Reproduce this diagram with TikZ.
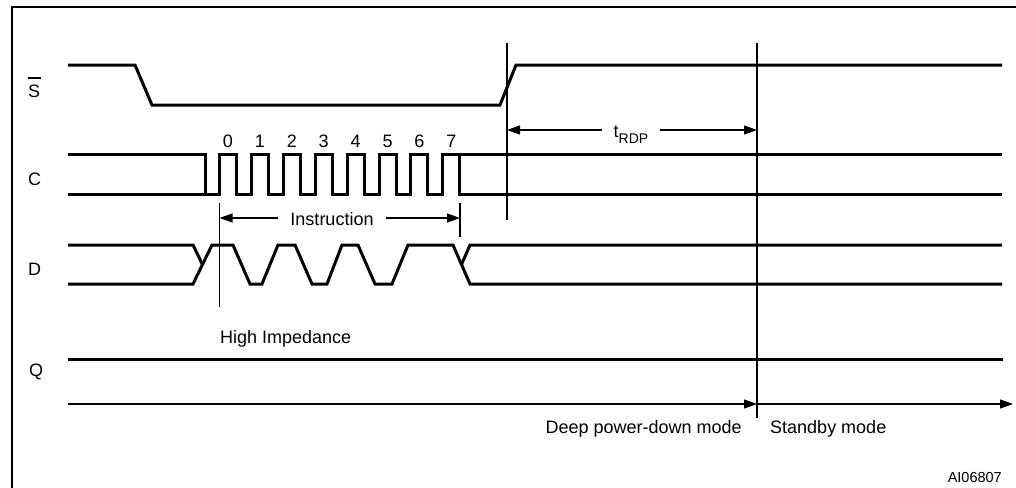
\documentclass[tikz,border=0pt]{standalone}
\usepackage{fontspec}
\setmainfont{Liberation Sans}
\usetikzlibrary{arrows.meta}
\begin{document}
\begin{tikzpicture}[x=1pt,y=-1pt,
  sig/.style={line width=3pt, line join=miter},
  guide/.style={line width=1.2pt},
  dim/.style={line width=1.2pt,-{Triangle[length=13pt,width=9pt]}},
  lbl/.style={font=\fontsize{18}{21}\selectfont, inner sep=0pt},
]
\useasboundingbox (0,0) rectangle (1016,487);
% frame
\draw[line width=2.5pt] (12,490) -- (12,7) -- (1020,7);

% signal names
\node[lbl,anchor=base west] (lS) at (28,97) {\rlap{\rule[18.5pt]{13pt}{1.1pt}}S};
\node[lbl,anchor=base] (lC) at (34.5,185) {C};
\node[lbl,anchor=base] (lD) at (34.5,275) {D};
\node[lbl,anchor=base] (lQ) at (36,376) {Q};

% S
\draw[sig] (68,65) -- (135,65) -- (152,105) -- (500,105) -- (516,65) -- (1002,65);

% C
\draw[sig] (68,154) -- (205,154) -- (205,194);
\draw[sig] (68,194)
  foreach \k in {0,...,7} { -- ({219.5+31.9*\k},194) -- ({219.5+31.9*\k},154) -- ({236.5+31.9*\k},154) -- ({236.5+31.9*\k},194) }
  -- (1002,194);
\draw[sig] ({236.5+31.9*7},154) -- (1002,154);
\foreach \k in {0,...,7} {
  \node[lbl,anchor=base] (bit\k) at ({228+31.9*\k},147) {\k};
}

% D
\draw[sig] (68,245) -- (193,245) -- (202.5,264.5);
\draw[sig] (68,284) -- (193,284) -- (212,245) -- (233,245) -- (250,284) -- (262,284)
  -- (278,245) -- (295,245) -- (312,284) -- (327,284) -- (342,245) -- (358,245)
  -- (375,284) -- (392,284) -- (408,245) -- (453,245) -- (470,284) -- (1002,284);
\draw[sig] (461.5,264.5) -- (470,245) -- (1002,245);

% Q
\node[lbl,anchor=base west] (hiz) at (220,343) {High Impedance};
\draw[sig] (68,359) -- (1003,359);

% guide lines
\coordinate (g1a) at (219.5,203); \coordinate (g1b) at (219.5,307);
\coordinate (g2a) at (460,203);   \coordinate (g2b) at (460,237);
\coordinate (g3a) at (507,43);    \coordinate (g3b) at (507,220);
\coordinate (g4a) at (757,43);    \coordinate (g4b) at (757,418);
\draw[guide] (g1a) -- (g1b);
\draw[guide] (g2a) -- (g2b);
\draw[guide] (g3a) -- (g3b);
\draw[guide] (g4a) -- (g4b);

% Instruction dimension
\coordinate (i0) at (219.5,218);
\coordinate (i1) at (460,218);
\node[lbl,anchor=base,inner xsep=12.5pt] (instr) at (332,225) {Instruction};
\draw[dim] (instr.west |- i0) -- (i0);
\draw[dim] (instr.east |- i1) -- (i1);

% tRDP dimension
\coordinate (t0) at (507,130);
\coordinate (t1) at (757,130);
\node[lbl,anchor=base,inner xsep=12pt] (trdp) at (631,137)
  {t\raisebox{-6pt}{\fontsize{14}{16}\selectfont RDP}};
\draw[dim] (trdp.west |- t0) -- (t0);
\draw[dim] (trdp.east |- t1) -- (t1);

% time axis
\coordinate (a0) at (68,404);
\coordinate (a1) at (757,404);
\coordinate (a2) at (1013,404);
\draw[dim] (a0) -- (a1);
\draw[dim] (a1) -- (a2);
\node[lbl,anchor=base east] (deep) at (742,433) {Deep power-down mode};
\node[lbl,anchor=base west] (stby) at (770,433) {Standby mode};

\node[font=\fontsize{14.5}{17}\selectfont,inner sep=0pt,anchor=base east] (ai) at (1002,482) {AI06807};
\end{tikzpicture}
\end{document}
